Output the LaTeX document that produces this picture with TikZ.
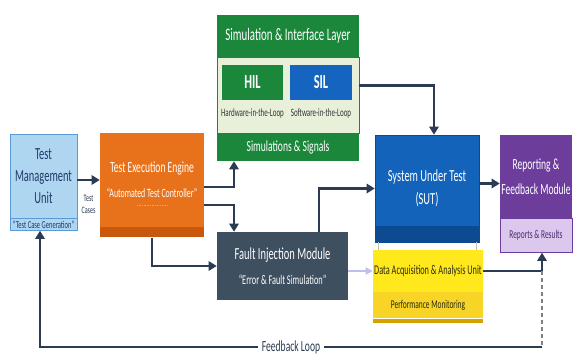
\documentclass[tikz,border=0pt]{standalone}
\usepackage{fontspec}
\setmainfont{Carlito}[FakeStretch=0.62]
\usetikzlibrary{arrows.meta, calc}

\definecolor{navy}{HTML}{2A3B52}
\definecolor{tmublue}{HTML}{AED6F1}
\definecolor{tmuedge}{HTML}{5B9BD5}
\definecolor{tmutext}{HTML}{1F3A68}
\definecolor{teeorange}{HTML}{E8721C}
\definecolor{teedark}{HTML}{C8590C}
\definecolor{simgreen}{HTML}{1B873B}
\definecolor{simlight}{HTML}{E8F0DA}
\definecolor{silblue}{HTML}{1565C0}
\definecolor{fimslate}{HTML}{3E4F5F}
\definecolor{sutblue}{HTML}{1463BA}
\definecolor{sutdark}{HTML}{0C4A92}
\definecolor{reppurple}{HTML}{6C3D9B}
\definecolor{replight}{HTML}{DCC8EC}
\definecolor{reptext}{HTML}{4A2A70}
\definecolor{daqyellow}{HTML}{FFE81C}
\definecolor{daqgold}{HTML}{F7D425}
\definecolor{daqedge}{HTML}{D4A300}
\definecolor{daqtext}{HTML}{2B2A10}

\begin{document}
\begin{tikzpicture}[x=0.03cm, y=-0.03cm,
  box/.style={rectangle, inner sep=0pt, align=center, text=white},
  sz/.style 2 args={minimum width=#1*0.03cm, minimum height=#2*0.03cm},
  fs/.style={font=\fontsize{#1}{#1}\selectfont},
  arr/.style={draw=navy, line width=2pt, -{Triangle[length=7pt,width=8pt]}},
  softarr/.style={draw=black!30!blue!25, line width=1.2pt, -{Triangle[length=6pt,width=6pt]}},
  dashline/.style={draw=gray, line width=1pt, dashed},
  faint/.style={draw=gray!50, thin},
  lbl/.style={inner sep=1pt, align=center}]

% canvas
\fill[white] (0,0) rectangle (582,358);
\useasboundingbox (0,0) rectangle (582,358);

% Define coordinates
\coordinate (busx) at (234,0);
\coordinate (fbr) at (542,347);
\coordinate (fbl) at (40,347);

% Test management unit
\node[box, sz={67}{84}, fill=tmublue, draw=tmuedge, text=tmutext, font=\fontsize{14.4}{19}\selectfont] (tmu) at (43.5,176) {Test\\Management\\Unit};
\node[box, sz={67}{12}, fill=tmublue, draw=tmuedge, text=tmutext, fs=9, anchor=north] (tcg) at (tmu.south) {“Test Case Generation”};

% Test execution engine
\node[box, sz={104}{94}, fill=teeorange, fs=13.2] (tee) at (152,180) {Test Execution Engine\\[8pt]{\fontsize{10.8}{12}\selectfont “Automated Test Controller”}};
\node[box, sz={104}{10}, fill=teedark, anchor=north] (teestrip) at (tee.south) {};
\draw[densely dotted, white!35!teeorange] ($(tee.center)+(-15,25)$) -- ($(tee.center)+(15,25)$);

% Simulation & interface layer
\node[box, sz={142}{42}, fill=simgreen, fs=15] (simh) at (288,36) {Simulation \& Interface Layer};
\node[box, sz={142}{76}, fill=simlight, draw=simgreen, anchor=north] (simb) at (simh.south) {};
\node[box, sz={142}{27}, fill=simgreen, fs=13.2, anchor=north] (simf) at (simb.south) {Simulations \& Signals};
\node[box, sz={61}{35}, fill=simgreen, font=\bfseries\fontsize{17}{18}\selectfont] (hil) at (252.5,82.5) {HIL};
\node[box, sz={62}{35}, fill=silblue, font=\bfseries\fontsize{17}{18}\selectfont] (sil) at (321,82.5) {SIL};
\node[lbl, fs=9.6, text=black!80] (hilnote) at (252.5,113) {Hardware-in-the-Loop};
\node[lbl, fs=9.6, text=black!80] (silnote) at (321,113) {Software-in-the-Loop};

% Fault injection module
\node[box, sz={131}{68}, fill=fimslate, fs=14.4] (fim) at (282.5,266) {Fault Injection Module\\[7pt]{\fontsize{11.4}{12}\selectfont “Error \& Fault Simulation”}};

% System under test
\node[box, sz={104}{107}, fill=sutblue, draw=sutdark, font=\fontsize{14.4}{20}\selectfont] (sut) at (427,188.5) {System Under Test\\(SUT)};
\node[box, sz={104}{16}, fill=sutdark, anchor=south] (sutstrip) at (sut.south) {};

% Reporting & feedback module
\node[box, sz={72}{83}, fill=reppurple, font=\fontsize{13.2}{21}\selectfont] (rep) at (536,176.5) {Reporting \&\\Feedback Module};
\node[box, sz={72}{34}, fill=replight, draw=reppurple, text=reptext, fs=10.2, anchor=north] (replow) at (rep.south) {Reports \& Results};

% Data acquisition & analysis unit
\node[box, sz={110}{42}, fill=daqyellow, text=daqtext, fs=11.4] (daq) at (428,271) {Data Acquisition \& Analysis Unit};
\node[box, sz={110}{26}, fill=daqgold, text=daqtext, fs=10.2, anchor=north] (daql) at (daq.south) {Performance Monitoring};
\node[box, sz={110}{4}, fill=daqedge, anchor=north] (daqbase) at (daql.south) {};

% thin joins between SUT and DAQ
\draw[faint] ($(sutstrip.south west)+(3,0)$) -- ($(daq.north west)+(5,0)$);
\draw[faint] ($(sutstrip.south east)+(-3,0)$) -- ($(daq.north east)+(-7,0)$);

% Test cases into the engine
\draw[arr] (tmu.east |- tee.west) -- node[lbl, below=11pt, text=navy, font=\fontsize{8.4}{10}\selectfont] (tclabel) {Test\\Cases} (tee.west);

% Engine to simulation layer and fault injection
\draw[arr] ($(tee.east)+(0,7)$) -| (simf.south -| busx);
\draw[arr] ($(tee.east)+(0,25)$) -| (fim.north -| busx);
\draw[arr] (teestrip.south) |- (fim.west);

% Into the system under test
\draw[arr] ($(fim.north east)+(-29,0)$) |- (sut.west);
\draw[arr] ($(simb.east)+(0,-10)$) -| ($(sut.north)+(7,0)$);
\draw[softarr] (fim.east |- daq.west) -- (daq.west);

% Results to reporting
\coordinate (sutout) at ($(sut.east)+(0,-5)$);
\draw[arr] (sutout) -- (sutout -| rep.west);
\draw[arr] (daq.east) -| (replow.south -| fbr);

% Feedback loop
\draw[dashline] (daq.east -| fbr) -- (fbr);
\draw[arr] (fbr) -- node[fill=white, inner sep=3pt, text=navy, fs=13.2] (fblabel) {Feedback Loop} (fbl) -- (tcg.south -| fbl);

\end{tikzpicture}
\end{document}
